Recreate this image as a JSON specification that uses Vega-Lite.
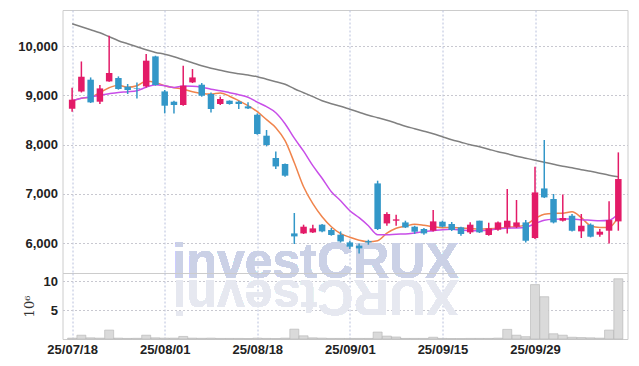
{
  "$schema": "https://vega.github.io/schema/vega-lite/v6.json",
  "padding": {"left": 16.5, "top": 9, "right": 8, "bottom": 5},
  "spacing": 0,
  "bounds": "flush",
  "config": {
    "view": {"stroke": "#cccccc", "strokeWidth": 1},
    "axis": {
      "labelFont": "Liberation Sans, Arial, sans-serif",
      "labelFontWeight": "bold",
      "labelFontSize": 13,
      "labelColor": "#222222",
      "domain": false,
      "ticks": false,
      "gridDash": [2, 2],
      "gridWidth": 1
    }
  },
  "data": {
    "values": [
      {"i":0,"date":"25/07/18","o":8730,"h":9157,"l":8670,"c":8914,"v":0.15,"ma5":8893,"ma20":8893,"ma60":10457},
      {"i":1,"date":"25/07/21","o":9080,"h":9690,"l":9060,"c":9380,"v":0.66,"ma5":8944,"ma20":8944,"ma60":10396},
      {"i":2,"date":"25/07/22","o":9320,"h":9366,"l":8847,"c":8859,"v":0.2,"ma5":8964,"ma20":8969,"ma60":10335},
      {"i":3,"date":"25/07/23","o":8873,"h":9212,"l":8826,"c":9143,"v":0.15,"ma5":9056,"ma20":9005,"ma60":10274},
      {"i":4,"date":"25/07/24","o":9285,"h":10213,"l":9279,"c":9456,"v":1.54,"ma5":9157,"ma20":9036,"ma60":10193},
      {"i":5,"date":"25/07/25","o":9354,"h":9387,"l":9117,"c":9131,"v":0.15,"ma5":9208,"ma20":9062,"ma60":10112},
      {"i":6,"date":"25/07/28","o":9178,"h":9232,"l":9029,"c":9111,"v":0.1,"ma5":9168,"ma20":9076,"ma60":10051},
      {"i":7,"date":"25/07/29","o":9143,"h":9265,"l":8940,"c":9131,"v":0.12,"ma5":9198,"ma20":9096,"ma60":9990},
      {"i":8,"date":"25/07/30","o":9184,"h":9842,"l":9163,"c":9706,"v":0.66,"ma5":9289,"ma20":9167,"ma60":9929},
      {"i":9,"date":"25/07/31","o":9793,"h":9807,"l":9198,"c":9212,"v":0.2,"ma5":9265,"ma20":9218,"ma60":9874},
      {"i":10,"date":"25/08/01","o":9082,"h":9111,"l":8636,"c":8792,"v":0.15,"ma5":9198,"ma20":9198,"ma60":9838},
      {"i":11,"date":"25/08/04","o":8873,"h":8893,"l":8636,"c":8806,"v":0.15,"ma5":9157,"ma20":9163,"ma60":9787},
      {"i":12,"date":"25/08/05","o":8806,"h":9604,"l":8792,"c":9198,"v":0.44,"ma5":9127,"ma20":9192,"ma60":9726},
      {"i":13,"date":"25/08/06","o":9265,"h":9536,"l":9252,"c":9366,"v":0.15,"ma5":9076,"ma20":9188,"ma60":9665},
      {"i":14,"date":"25/08/07","o":9218,"h":9252,"l":8975,"c":8995,"v":0.12,"ma5":9042,"ma20":9167,"ma60":9604},
      {"i":15,"date":"25/08/08","o":9029,"h":9062,"l":8656,"c":8725,"v":0.15,"ma5":9029,"ma20":9127,"ma60":9553},
      {"i":16,"date":"25/08/11","o":8826,"h":8975,"l":8806,"c":8928,"v":0.1,"ma5":9050,"ma20":9096,"ma60":9513},
      {"i":17,"date":"25/08/12","o":8893,"h":8900,"l":8813,"c":8826,"v":0.1,"ma5":8985,"ma20":9056,"ma60":9472},
      {"i":18,"date":"25/08/13","o":8873,"h":8893,"l":8725,"c":8826,"v":0.1,"ma5":8893,"ma20":9015,"ma60":9442},
      {"i":19,"date":"25/08/14","o":8778,"h":8860,"l":8725,"c":8737,"v":0.08,"ma5":8792,"ma20":8964,"ma60":9415},
      {"i":20,"date":"25/08/18","o":8609,"h":8636,"l":8203,"c":8217,"v":0.15,"ma5":8670,"ma20":8863,"ma60":9381},
      {"i":21,"date":"25/08/19","o":8183,"h":8298,"l":7966,"c":7994,"v":0.1,"ma5":8508,"ma20":8772,"ma60":9330},
      {"i":22,"date":"25/08/20","o":7730,"h":7864,"l":7507,"c":7559,"v":0.08,"ma5":8345,"ma20":8650,"ma60":9279},
      {"i":23,"date":"25/08/21","o":7608,"h":7620,"l":7350,"c":7371,"v":0.15,"ma5":8081,"ma20":8426,"ma60":9228},
      {"i":24,"date":"25/08/22","o":6199,"h":6613,"l":5984,"c":6138,"v":1.7,"ma5":7634,"ma20":8132,"ma60":9137},
      {"i":25,"date":"25/08/25","o":6199,"h":6376,"l":6187,"c":6335,"v":0.55,"ma5":7147,"ma20":7868,"ma60":9056},
      {"i":26,"date":"25/08/26","o":6219,"h":6376,"l":6207,"c":6301,"v":0.2,"ma5":6802,"ma20":7574,"ma60":8975},
      {"i":27,"date":"25/08/27","o":6376,"h":6390,"l":6220,"c":6240,"v":0.15,"ma5":6538,"ma20":7320,"ma60":8893},
      {"i":28,"date":"25/08/28","o":6268,"h":6309,"l":6152,"c":6167,"v":0.1,"ma5":6335,"ma20":7046,"ma60":8832},
      {"i":29,"date":"25/08/29","o":6173,"h":6240,"l":6015,"c":6036,"v":0.1,"ma5":6193,"ma20":6863,"ma60":8782},
      {"i":30,"date":"25/09/01","o":6016,"h":6050,"l":5882,"c":5929,"v":0.1,"ma5":6122,"ma20":6660,"ma60":8721},
      {"i":31,"date":"25/09/02","o":5950,"h":5996,"l":5793,"c":5895,"v":0.1,"ma5":6061,"ma20":6518,"ma60":8660},
      {"i":32,"date":"25/09/03","o":6043,"h":6070,"l":5970,"c":6016,"v":0.1,"ma5":6030,"ma20":6355,"ma60":8599},
      {"i":33,"date":"25/09/04","o":7214,"h":7269,"l":6268,"c":6288,"v":1.2,"ma5":6051,"ma20":6173,"ma60":8548},
      {"i":34,"date":"25/09/05","o":6402,"h":6626,"l":6355,"c":6593,"v":0.5,"ma5":6203,"ma20":6173,"ma60":8497},
      {"i":35,"date":"25/09/08","o":6457,"h":6578,"l":6355,"c":6484,"v":0.35,"ma5":6305,"ma20":6183,"ma60":8437},
      {"i":36,"date":"25/09/09","o":6422,"h":6457,"l":6308,"c":6321,"v":0.1,"ma5":6345,"ma20":6187,"ma60":8376},
      {"i":37,"date":"25/09/10","o":6335,"h":6355,"l":6187,"c":6233,"v":0.1,"ma5":6386,"ma20":6207,"ma60":8325},
      {"i":38,"date":"25/09/11","o":6288,"h":6309,"l":6173,"c":6199,"v":0.1,"ma5":6366,"ma20":6234,"ma60":8274},
      {"i":39,"date":"25/09/12","o":6254,"h":6674,"l":6240,"c":6443,"v":0.3,"ma5":6335,"ma20":6254,"ma60":8223},
      {"i":40,"date":"25/09/15","o":6436,"h":6457,"l":6321,"c":6335,"v":0.1,"ma5":6315,"ma20":6274,"ma60":8162},
      {"i":41,"date":"25/09/16","o":6390,"h":6430,"l":6247,"c":6268,"v":0.08,"ma5":6319,"ma20":6284,"ma60":8101},
      {"i":42,"date":"25/09/17","o":6322,"h":6335,"l":6152,"c":6187,"v":0.08,"ma5":6309,"ma20":6268,"ma60":8051},
      {"i":43,"date":"25/09/18","o":6220,"h":6424,"l":6187,"c":6376,"v":0.1,"ma5":6299,"ma20":6254,"ma60":8000},
      {"i":44,"date":"25/09/19","o":6457,"h":6457,"l":6207,"c":6220,"v":0.1,"ma5":6288,"ma20":6254,"ma60":7959},
      {"i":45,"date":"25/09/22","o":6167,"h":6416,"l":6152,"c":6301,"v":0.1,"ma5":6294,"ma20":6264,"ma60":7909},
      {"i":46,"date":"25/09/23","o":6274,"h":6443,"l":6254,"c":6422,"v":0.15,"ma5":6305,"ma20":6294,"ma60":7858},
      {"i":47,"date":"25/09/24","o":6321,"h":7100,"l":6199,"c":6457,"v":1.66,"ma5":6325,"ma20":6305,"ma60":7817},
      {"i":48,"date":"25/09/25","o":6335,"h":6877,"l":6308,"c":6422,"v":0.66,"ma5":6335,"ma20":6309,"ma60":7767},
      {"i":49,"date":"25/09/26","o":6422,"h":6471,"l":6016,"c":6050,"v":0.4,"ma5":6376,"ma20":6325,"ma60":7726},
      {"i":50,"date":"25/09/29","o":6105,"h":7553,"l":6085,"c":7031,"v":9.4,"ma5":6497,"ma20":6396,"ma60":7685},
      {"i":51,"date":"25/09/30","o":7112,"h":8096,"l":6917,"c":6930,"v":7.3,"ma5":6589,"ma20":6467,"ma60":7645},
      {"i":52,"date":"25/10/01","o":6897,"h":6999,"l":6402,"c":6422,"v":0.9,"ma5":6605,"ma20":6487,"ma60":7604},
      {"i":53,"date":"25/10/02","o":6457,"h":6990,"l":6443,"c":6511,"v":0.66,"ma5":6609,"ma20":6491,"ma60":7563},
      {"i":54,"date":"25/10/10","o":6558,"h":6593,"l":6240,"c":6254,"v":0.3,"ma5":6640,"ma20":6491,"ma60":7533},
      {"i":55,"date":"25/10/13","o":6240,"h":6593,"l":6105,"c":6355,"v":0.25,"ma5":6518,"ma20":6477,"ma60":7492},
      {"i":56,"date":"25/10/14","o":6376,"h":6402,"l":6118,"c":6132,"v":0.2,"ma5":6355,"ma20":6467,"ma60":7462},
      {"i":57,"date":"25/10/15","o":6173,"h":6288,"l":6132,"c":6234,"v":0.15,"ma5":6321,"ma20":6457,"ma60":7421},
      {"i":58,"date":"25/10/16","o":6254,"h":6850,"l":5996,"c":6470,"v":1.54,"ma5":6321,"ma20":6467,"ma60":7381},
      {"i":59,"date":"25/10/17","o":6443,"h":7844,"l":6254,"c":7303,"v":10.4,"ma5":6538,"ma20":6599,"ma60":7350}
    ]
  },
  "vconcat": [
    {
      "width": 565,
      "height": 263,
      "encoding": {
        "x": {"field": "i", "type": "quantitative",
          "scale": {"domain": [-0.5, 59.45], "nice": false, "zero": false},
          "axis": {"title": null, "labels": false, "grid": true, "gridColor": "#b8c0dc", "values": [0, 10, 20, 30, 40, 50]}}
      },
      "layer": [
        {
          "mark": {"type": "text", "text": "investCRUX", "font": "Liberation Sans, Arial, sans-serif", "fontWeight": "bold", "fontSize": 50, "align": "center", "baseline": "alphabetic", "color": "#cbd1e6"},
          "encoding": {
            "x": {"datum": 26.3, "type": "quantitative"},
            "y": {"datum": 5299, "type": "quantitative"}
          }
        },
        {
          "mark": {"type": "line", "color": "#808080", "strokeWidth": 1.5, "interpolate": "monotone"},
          "encoding": {
            "y": {"field": "ma60", "type": "quantitative",
              "scale": {"domain": [5395, 10735], "nice": false, "zero": false},
              "axis": {"title": null, "values": [6000, 7000, 8000, 9000, 10000], "format": ",d", "grid": true, "gridColor": "#c8c8d0", "labelPadding": 5}}
          }
        },
        {
          "mark": {"type": "line", "color": "#f0844c", "strokeWidth": 1.5, "interpolate": "monotone"},
          "encoding": {"y": {"field": "ma5", "type": "quantitative"}}
        },
        {
          "mark": {"type": "line", "color": "#c84ee8", "strokeWidth": 1.5, "interpolate": "monotone"},
          "encoding": {"y": {"field": "ma20", "type": "quantitative"}}
        },
        {
          "mark": {"type": "rule", "strokeWidth": 1.5},
          "encoding": {
            "y": {"field": "l", "type": "quantitative"},
            "y2": {"field": "h"},
            "color": {"condition": {"test": "datum.c >= datum.o", "value": "#e31b68"}, "value": "#3397c8"}
          }
        },
        {
          "mark": {"type": "bar", "size": 6.5},
          "encoding": {
            "y": {"field": "o", "type": "quantitative"},
            "y2": {"field": "c"},
            "color": {"condition": {"test": "datum.c >= datum.o", "value": "#e31b68"}, "value": "#3397c8"}
          }
        }
      ]
    },
    {
      "width": 565,
      "height": 66,
      "encoding": {
        "x": {"field": "i", "type": "quantitative",
          "scale": {"domain": [-0.5, 59.45], "nice": false, "zero": false},
          "axis": {"title": null, "grid": true, "gridColor": "#b8c0dc", "values": [0, 10, 20, 30, 40, 50], "labelPadding": 4,
            "labelExpr": "datum.value==0?'25/07/18':datum.value==10?'25/08/01':datum.value==20?'25/08/18':datum.value==30?'25/09/01':datum.value==40?'25/09/15':'25/09/29'"}}
      },
      "layer": [
        {
          "mark": {"type": "text", "text": "XURCtsevni", "font": "Liberation Sans, Arial, sans-serif", "fontWeight": "bold", "fontSize": 50, "align": "center", "baseline": "alphabetic", "angle": 180, "color": "#e6e8f0"},
          "encoding": {
            "x": {"datum": 26.3, "type": "quantitative"},
            "y": {"datum": 10.2, "type": "quantitative"}
          }
        },
        {
          "mark": {"type": "bar", "size": 9, "color": "#dadada", "stroke": "#b4b4b4", "strokeWidth": 0.6},
          "encoding": {
            "y": {"field": "v", "type": "quantitative",
              "scale": {"domain": [0, 11.4], "nice": false},
              "axis": {"title": "10⁶", "titleFont": "DejaVu Serif, serif", "titleFontWeight": "normal", "titleFontSize": 13, "titleColor": "#333333", "values": [5, 10], "grid": true, "gridColor": "#c8c8d0", "labelPadding": 5, "titleX": -33, "titleY": 33, "titleBaseline": "middle", "titleAlign": "center"}}
          }
        }
      ]
    }
  ]
}
